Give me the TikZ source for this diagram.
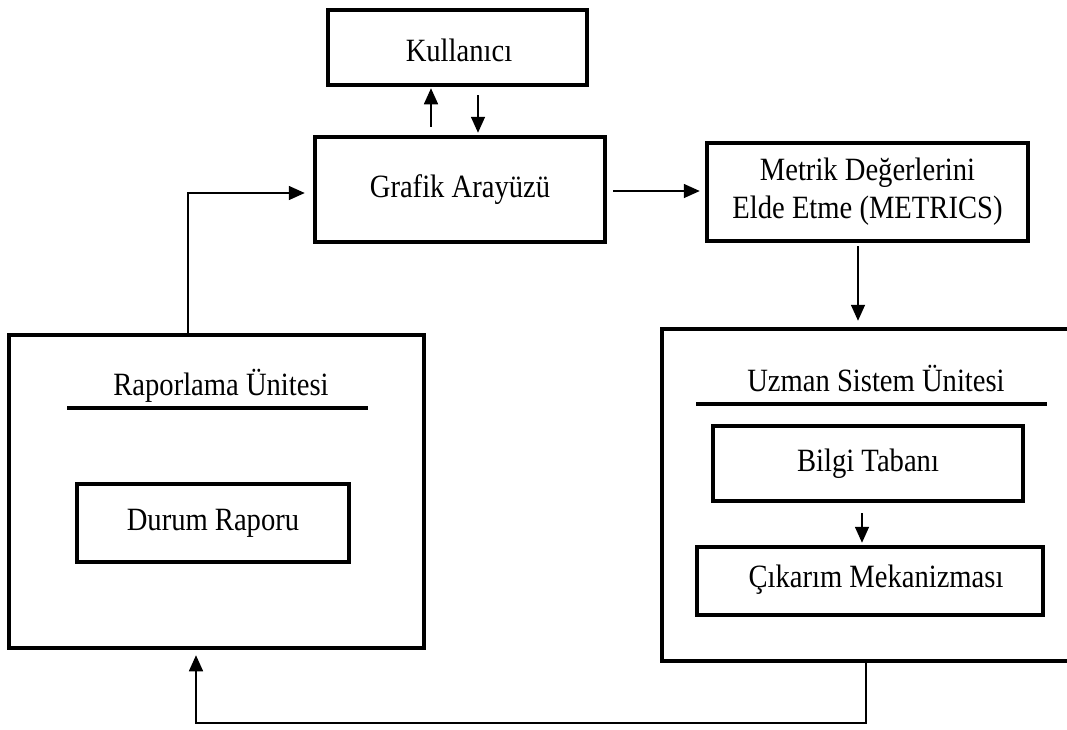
\documentclass[tikz,border=0pt]{standalone}
\usepackage{fontspec}
\setmainfont{Liberation Serif}[FakeStretch=0.88]
\usetikzlibrary{arrows.meta}
\begin{document}
\begin{tikzpicture}[x=1pt,y=-1pt,
  box/.style={draw=black, line width=3.5pt, rectangle, inner sep=0pt, align=center,
    font=\fontsize{32.5}{38}\selectfont},
  lbl/.style={inner sep=0pt, font=\fontsize{32.5}{38}\selectfont},
  bar/.style={line width=3.5pt},
  arr/.style={line width=1.6pt, -{Triangle[length=16pt,width=14pt]}},
  conn/.style={line width=1.6pt}]
\clip (0,0) rectangle (1067,729);
\fill[white] (0,0) rectangle (1067,729);
% boxes
\node[box, minimum width=259pt, minimum height=75pt] (kul) at (457.5,47.5) {};
\node[lbl] at (459,50) {Kullanıcı};
\node[box, minimum width=290pt, minimum height=105pt] (gra) at (460,189.5) {Grafik Arayüzü};
\node[box, minimum width=321pt, minimum height=98pt] (met) at (867.5,192) {Metrik Değerlerini\\Elde Etme (METRICS)};
\node[box, minimum width=413pt, minimum height=332pt] (uz) at (868.5,495) {};
\node[box, minimum width=415pt, minimum height=313pt] (rap) at (216.5,491.5) {};
\node[lbl] (raptitle) at (221,386) {Raporlama Ünitesi};
\node[lbl] (uztitle) at (876,378) {Uzman Sistem Ünitesi};
\coordinate (rl1) at (67,408); \coordinate (rl2) at (368,408);
\coordinate (ul1) at (696,404); \coordinate (ul2) at (1047,404);
\draw[bar] (rl1) -- (rl2);
\draw[bar] (ul1) -- (ul2);
\node[box, minimum width=272pt, minimum height=78pt] (dur) at (213,523) {Durum Raporu};
\node[box, minimum width=310pt, minimum height=75pt] (bil) at (868,463.5) {Bilgi Tabanı};
\node[box, minimum width=346pt, minimum height=68pt] (cik) at (870,581) {};
\node[lbl] at (876,580) {Çıkarım Mekanizması};
% helper coordinates
\coordinate (xa) at (431,0);
\coordinate (xb) at (478,0);
\coordinate (xc) at (858,0);
\coordinate (xd) at (862,0);
\coordinate (xe) at (866,0);
\coordinate (xf) at (196,0);
\coordinate (xg) at (188,0);
\coordinate (yb) at (0,723);
\coordinate (yt) at (0,193);
\coordinate (yg) at (0,191);
% connectors
\draw[arr, shorten <=8.5pt, shorten >=1.5pt] (gra.north -| xa) -- (kul.south -| xa);
\draw[arr, shorten <=8.5pt, shorten >=2.5pt] (kul.south -| xb) -- (gra.north -| xb);
\draw[arr, shorten <=6.5pt, shorten >=5.5pt] (gra.east |- yg) -- (met.west |- yg);
\draw[arr, shorten <=3.5pt, shorten >=6.5pt] (met.south -| xc) -- (uz.north -| xc);
\draw[arr, shorten <=10.5pt, shorten >=2.5pt] (bil.south -| xd) -- (cik.north -| xd);
\draw[arr, shorten >=5.5pt] (uz.south -| xe) -- (xe |- yb) -- (xf |- yb) -- (rap.south -| xf);
\draw[arr, shorten >=8.5pt] (rap.north -| xg) -- (xg |- yt) -- (gra.west |- yt);
\end{tikzpicture}
\end{document}
